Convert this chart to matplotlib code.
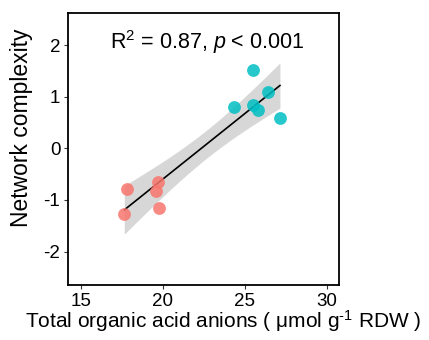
import numpy as np
import matplotlib
matplotlib.use("Agg")
import matplotlib.pyplot as plt

plt.rcParams['font.family'] = ['Liberation Sans', 'DejaVu Sans']
plt.rcParams['mathtext.fontset'] = 'custom'
plt.rcParams['mathtext.rm'] = 'Liberation Sans'
plt.rcParams['mathtext.it'] = 'Liberation Sans:italic'
plt.rcParams['axes.unicode_minus'] = False

# data
red_x = [17.80, 17.66, 19.73, 19.59, 19.79]
red_y = [-0.79, -1.28, -0.66, -0.82, -1.15]
cyan_x = [25.52, 24.35, 25.49, 25.83, 26.44, 27.15]
cyan_y = [1.53, 0.80, 0.85, 0.74, 1.09, 0.59]
x_ticks = [15, 20, 25, 30]
y_ticks = [-2, -1, 0, 1, 2]

x = np.array(red_x + cyan_x)
y = np.array(red_y + cyan_y)

# linear fit + 95% confidence band
n = len(x)
b, a = np.polyfit(x, y, 1)
xs = np.linspace(x.min(), x.max(), 100)
ys = a + b * xs
resid = y - (a + b * x)
s = np.sqrt(np.sum(resid ** 2) / (n - 2))
t = 2.262  # t(0.975, df=9)
se = s * np.sqrt(1.0 / n + (xs - x.mean()) ** 2 / np.sum((x - x.mean()) ** 2))

fig = plt.figure(figsize=(4.29, 3.40), dpi=100)
ax = fig.add_axes([68 / 429, 55 / 340, 271 / 429, 272 / 340])

ax.fill_between(xs, ys - t * se, ys + t * se, color='#bdbdbd', alpha=0.6, lw=0, zorder=1)
ax.plot(xs, ys, color='black', lw=1.2, zorder=2)
ax.scatter(red_x, red_y, s=85, color='#F8766D', alpha=0.85, lw=0, zorder=3)
ax.scatter(cyan_x, cyan_y, s=85, color='#00BFC4', alpha=0.85, lw=0, zorder=3)

ax.text(0.515, 0.895, r'R$^2$ = 0.87, $\it{p}$ < 0.001', transform=ax.transAxes,
        ha='center', va='center', fontsize=15.5)

ax.set_xlim(14.23, 30.75)
ax.set_ylim(-2.65, 2.63)
ax.set_xticks(x_ticks)
ax.set_yticks(y_ticks)
ax.tick_params(labelsize=13.5, length=3, width=0.8, color='#333333', pad=2.5)
for sp in ax.spines.values():
    sp.set_linewidth(1.3)

ax.set_xlabel('Total organic acid anions ( μmol g$^{\u2010 1}$ RDW )', fontsize=15, labelpad=3)
ax.xaxis.set_label_coords(0.572, -0.085)
ax.set_ylabel('Network complexity', fontsize=16.5, labelpad=5)
ax.yaxis.set_label_coords(-0.129, 0.579)

fig.savefig('out.png', dpi=100)
